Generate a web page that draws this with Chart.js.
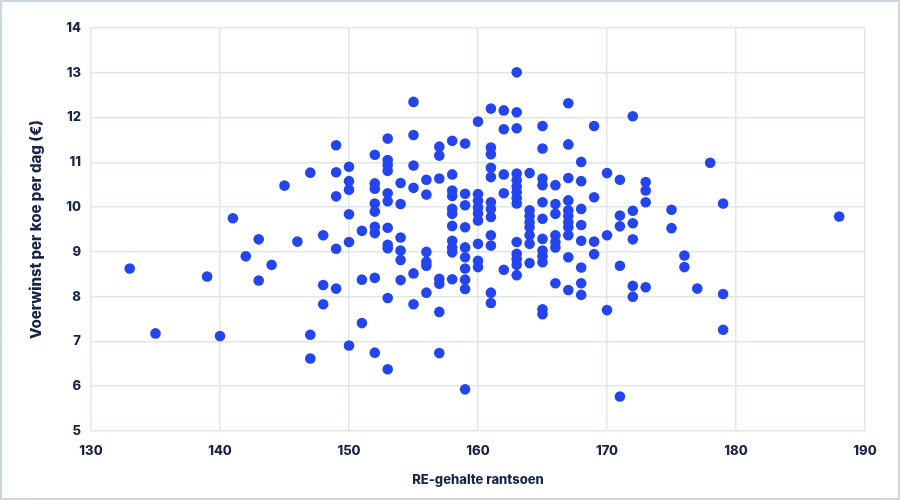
<!DOCTYPE html>
<html lang="nl">
<head>
    <meta charset="utf-8" />
    <title>Voerwinst vs RE-gehalte</title>
    <script src="https://cdn.jsdelivr.net/npm/chart.js@4.4.1/dist/chart.umd.min.js"></script>
    <style>
        html, body { margin: 0; padding: 0; background: #ffffff; }
        #wrap {
            width: 900px; height: 500px; box-sizing: border-box;
            border: 2px solid #c9d8de; position: relative;
        }
        #scatter { display: block; }
    </style>
    <script>
        // RE-gehalte (x) and voerwinst per koe per dag (y)
        var reGehalte = [
            133, 135, 139, 140, 141, 142, 143, 143, 144, 145, 146,
            147, 147, 147,
            148, 148, 148,
            149, 149, 149, 149, 149,
            150, 150, 150, 150, 150, 150,
            151, 151, 151,
            152, 152, 152, 152, 152, 152, 152, 152, 152,
            153, 153, 153, 153, 153, 153, 153, 153, 153, 153, 153,
            154, 154, 154, 154, 154, 154,
            155, 155, 155, 155, 155, 155,
            156, 156, 156, 156, 156, 156,
            157, 157, 157, 157, 157, 157, 157,
            158, 158, 158, 158, 158, 158, 158, 158, 158, 158, 158,
            159, 159, 159, 159, 159, 159, 159, 159, 159, 159,
            160, 160, 160, 160, 160, 160, 160, 160, 160,
            161, 161, 161, 161, 161, 161, 161, 161, 161, 161, 161, 161,
            162, 162, 162, 162, 162,
            163, 163, 163, 163, 163, 163, 163, 163, 163, 163, 163, 163, 163, 163,
            164, 164, 164, 164, 164, 164, 164, 164,
            165, 165, 165, 165, 165, 165, 165, 165, 165, 165, 165, 165,
            166, 166, 166, 166, 166, 166, 166,
            167, 167, 167, 167, 167, 167, 167, 167, 167, 167, 167,
            168, 168, 168, 168, 168, 168, 168, 168,
            169, 169, 169, 169,
            170, 170, 170,
            171, 171, 171, 171, 171,
            172, 172, 172, 172, 172, 172,
            173, 173, 173, 173,
            175, 175,
            176, 176,
            177, 178,
            179, 179, 179,
            188
        ];
        var voerwinst = [
            8.63, 7.18, 8.45, 7.12, 9.75, 8.90, 9.28, 8.36, 8.71, 10.48, 9.23,
            10.77, 7.15, 6.62,
            9.37, 8.26, 7.83,
            11.38, 10.78, 10.24, 9.07, 8.18,
            10.90, 10.58, 10.39, 9.84, 9.22, 6.91,
            9.47, 8.38, 7.41,
            11.17, 10.53, 10.41, 10.08, 9.90, 9.56, 9.42, 8.42, 6.75,
            11.53, 11.05, 10.94, 10.81, 10.31, 10.13, 9.54, 9.16, 9.08, 7.97, 6.38,
            10.54, 10.07, 9.32, 9.03, 8.82, 8.37,
            12.35, 11.61, 10.93, 10.43, 8.52, 7.83,
            10.61, 10.28, 9.00, 8.78, 8.69, 8.09,
            11.35, 11.15, 10.64, 8.40, 8.29, 7.66, 6.74,
            11.48, 10.73, 10.37, 10.25, 9.96, 9.85, 9.58, 9.25, 9.10, 8.99, 8.39,
            11.42, 10.30, 10.04, 9.55, 9.10, 8.88, 8.63, 8.38, 8.17, 5.93,
            11.91, 10.29, 10.14, 9.99, 9.86, 9.70, 9.18, 8.80, 8.66,
            12.20, 11.33, 11.18, 10.88, 10.67, 10.11, 9.96, 9.78, 9.37, 9.14, 8.09, 7.86,
            12.16, 11.74, 10.73, 10.31, 8.60,
            13.01, 12.12, 11.76, 10.75, 10.60, 10.46, 10.33, 10.20, 10.08, 9.22, 8.96, 8.84, 8.71, 8.48,
            10.76, 9.93, 9.80, 9.66, 9.55, 9.37, 9.18, 8.75,
            11.81, 11.31, 10.64, 10.49, 10.11, 9.74, 9.29, 9.03, 8.90, 8.77, 7.72, 7.61,
            10.49, 10.07, 9.85, 9.37, 9.22, 9.10, 8.30,
            12.32, 11.40, 10.65, 10.15, 9.93, 9.80, 9.66, 9.55, 9.37, 8.88, 8.15,
            11.01, 10.58, 9.96, 9.60, 9.25, 8.65, 8.30, 8.04,
            11.81, 10.22, 9.23, 8.95,
            10.76, 9.37, 7.70,
            10.61, 9.81, 9.57, 8.69, 5.77,
            12.03, 9.92, 9.64, 9.28, 8.24, 8.00,
            10.56, 10.37, 10.11, 8.21,
            9.94, 9.53,
            8.92, 8.66,
            8.18, 10.99,
            10.08, 8.06, 7.26,
            9.79
        ];
        var xTicks = [130, 140, 150, 160, 170, 180, 190];
        var yTicks = [5, 6, 7, 8, 9, 10, 11, 12, 13, 14];

        var navy = "#172548";
        var dotBlue = "#2445ee";
        var gridColor = "#e0e7e7";

        window.onload = function () {
            var pts = [];
            for (var i = 0; i < reGehalte.length; i++) {
                pts.push({ x: reGehalte[i], y: voerwinst[i] });
            }

            new Chart(document.getElementById("scatter"), {
                type: "scatter",
                data: {
                    datasets: [{
                        label: "Voerwinst",
                        data: pts,
                        backgroundColor: dotBlue,
                        borderColor: dotBlue,
                        pointRadius: 5.3,
                        pointHoverRadius: 5.3,
                        borderWidth: 0
                    }]
                },
                options: {
                    responsive: false,
                    animation: false,
                    layout: { padding: { left: 25, right: 33, top: 26, bottom: 8 } },
                    plugins: {
                        legend: { display: false },
                        tooltip: { enabled: false }
                    },
                    scales: {
                        x: {
                            type: "linear",
                            min: xTicks[0],
                            max: xTicks[xTicks.length - 1],
                            afterBuildTicks: function (s) {
                                s.ticks = xTicks.map(function (v) { return { value: v }; });
                            },
                            afterFit: function (s) { s.height = 59; },
                            grid: { color: gridColor, lineWidth: 1.5, drawTicks: false },
                            border: { display: false },
                            ticks: {
                                padding: 12,
                                color: navy,
                                font: { family: "Inter", size: 13, weight: "800" }
                            },
                            title: {
                                display: true,
                                text: "RE-gehalte rantsoen",
                                color: navy,
                                padding: { top: 10, bottom: 2 },
                                font: { family: "Inter", size: 13, weight: "800" }
                            }
                        },
                        y: {
                            type: "linear",
                            min: yTicks[0],
                            max: yTicks[yTicks.length - 1],
                            afterBuildTicks: function (s) {
                                s.ticks = yTicks.map(function (v) { return { value: v }; });
                            },
                            afterFit: function (s) { s.width = 64; },
                            grid: { color: gridColor, lineWidth: 1.5, drawTicks: false },
                            border: { display: false },
                            ticks: {
                                padding: 10,
                                color: navy,
                                font: { family: "Inter", size: 13, weight: "800" }
                            },
                            title: {
                                display: true,
                                text: "Voerwinst per koe per dag (€)",
                                color: navy,
                                padding: { top: 0, bottom: 0 },
                                font: { family: "Inter", size: 15, weight: "800" }
                            }
                        }
                    }
                }
            });
        };
    </script>
</head>
<body>
    <div id="wrap">
        <canvas id="scatter" width="896" height="496"></canvas>
    </div>
</body>
</html>
